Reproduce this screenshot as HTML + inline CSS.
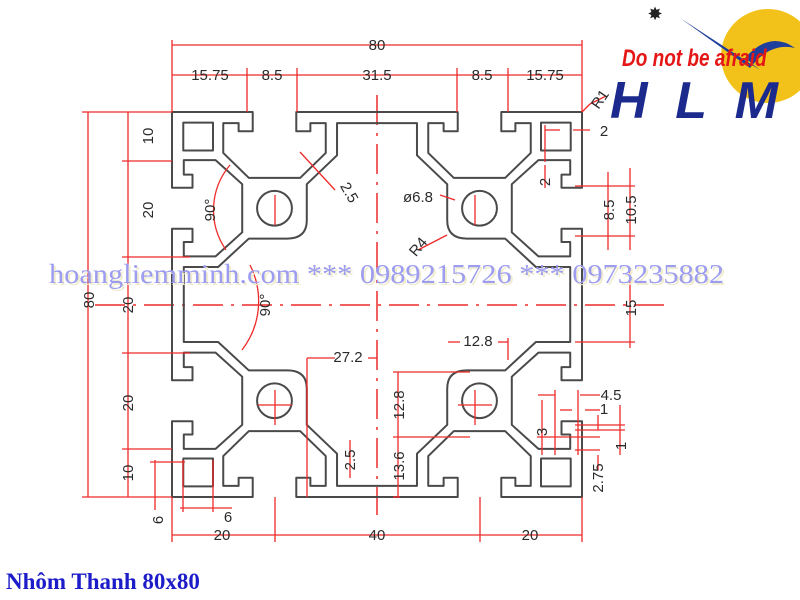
<!DOCTYPE html>
<html><head><meta charset="utf-8"><style>
html,body{margin:0;padding:0;background:#fff;width:800px;height:600px;overflow:hidden}
svg{display:block}
.p{fill:none;stroke:#4a4a4a;stroke-width:2;vector-effect:non-scaling-stroke;stroke-linejoin:round}
.r{stroke:#ee2a2a;stroke-width:1.3;fill:none}
.cl{stroke:#ee2a2a;stroke-width:1.5;stroke-dasharray:30 8 3 8;fill:none}
.t{font-family:"Liberation Sans",sans-serif;font-size:15px;fill:#2a2a2a}
</style></head><body>
<svg width="800" height="600" viewBox="0 0 800 600" xmlns="http://www.w3.org/2000/svg">
<defs>
<g id="q">
<path class="p" d="M0,15.75 L0,0 L15.75,0 L15.75,4 L13,4 L13,2.3 L10,2.3 L10,8.5 L15,13.7 L25,13.7 L30,8.5 L30,2.3 L27,2.3 L27,4 L24.25,4 L24.25,0 L40,0"/>
<path class="p" d="M15.75,0 L0,0 L0,15.75 L4,15.75 L4,13 L2.3,13 L2.3,10 L8.5,10 L13.7,15 L13.7,25 L8.5,30 L2.3,30 L2.3,27 L4,27 L4,24.25 L0,24.25 L0,40"/>
<rect class="p" x="2.2" y="2.2" width="5.8" height="5.8"/>
<path class="p" d="M40,2.3 L32.2,2.3 L32.2,9 L26.3,15 L26.3,22.5 Q26.3,26.3 22.5,26.3 L15,26.3 L9,32.2 L2.3,32.2 L2.3,40"/>
<ellipse class="p" cx="20" cy="20" rx="3.4" ry="3.6"/>
</g>
</defs>
<line class="cl" x1="95" y1="305" x2="665" y2="305"/>
<line class="cl" x1="377" y1="95" x2="377" y2="515"/>
<use href="#q" transform="translate(172,112) scale(5.125,4.8125)"/>
<use href="#q" transform="translate(582,112) scale(-5.125,4.8125)"/>
<use href="#q" transform="translate(172,497) scale(5.125,-4.8125)"/>
<use href="#q" transform="translate(582,497) scale(-5.125,-4.8125)"/>
<g class="r">
<line x1="172" y1="45" x2="582" y2="45"/>
<line x1="172" y1="40" x2="172" y2="112"/><line x1="582" y1="40" x2="582" y2="112"/>
<line x1="172" y1="75" x2="582" y2="75"/>
<line x1="247" y1="68" x2="247" y2="112"/><line x1="297" y1="68" x2="297" y2="112"/>
<line x1="457" y1="68" x2="457" y2="112"/><line x1="508" y1="68" x2="508" y2="112"/>
<line x1="88" y1="112" x2="88" y2="497"/>
<line x1="82" y1="112" x2="172" y2="112"/><line x1="82" y1="497" x2="172" y2="497"/>
<line x1="128" y1="112" x2="128" y2="497"/>
<line x1="122" y1="161" x2="172" y2="161"/><line x1="122" y1="257" x2="190" y2="257"/>
<line x1="122" y1="353" x2="190" y2="353"/><line x1="122" y1="449" x2="172" y2="449"/>
<line x1="172" y1="535" x2="582" y2="535"/>
<line x1="172" y1="497" x2="172" y2="542"/><line x1="582" y1="497" x2="582" y2="542"/>
<line x1="275" y1="497" x2="275" y2="542"/><line x1="480" y1="497" x2="480" y2="542"/>
<line x1="155" y1="460" x2="155" y2="510"/><line x1="150" y1="462" x2="185" y2="462"/>
<line x1="183" y1="460" x2="183" y2="512"/><line x1="213" y1="460" x2="213" y2="512"/><line x1="180" y1="508" x2="232" y2="508"/>
<line x1="582" y1="112" x2="590" y2="104"/><line x1="590" y1="104" x2="606" y2="96"/>
<line x1="545" y1="130" x2="560" y2="130"/><line x1="573" y1="130" x2="590" y2="130"/>
<line x1="545" y1="125" x2="545" y2="162"/>
<line x1="545" y1="165" x2="545" y2="188"/>
<line x1="575" y1="186" x2="635" y2="186"/><line x1="575" y1="236" x2="635" y2="236"/>
<line x1="608" y1="172" x2="608" y2="250"/><line x1="630" y1="168" x2="630" y2="250"/>
<line x1="575" y1="342" x2="635" y2="342"/><line x1="630" y1="270" x2="630" y2="348"/>
<line x1="538" y1="395" x2="555" y2="395"/><line x1="580" y1="395" x2="600" y2="395"/>
<line x1="555" y1="390" x2="555" y2="455"/><line x1="578" y1="390" x2="578" y2="455"/>
<line x1="560" y1="410" x2="572" y2="410"/><line x1="585" y1="410" x2="600" y2="410"/>
<line x1="575" y1="425" x2="625" y2="425"/><line x1="575" y1="430" x2="625" y2="430"/>
<line x1="537" y1="437" x2="600" y2="437"/><line x1="542" y1="400" x2="542" y2="455"/>
<line x1="620" y1="405" x2="620" y2="455"/><line x1="598" y1="415" x2="598" y2="430"/>
<line x1="575" y1="450" x2="600" y2="450"/><line x1="598" y1="455" x2="598" y2="470"/>
<line x1="300" y1="152" x2="335" y2="190"/>
<line x1="440" y1="195" x2="455" y2="200"/><line x1="418" y1="250" x2="447" y2="235"/>
<line x1="307" y1="358" x2="307" y2="497"/><line x1="307" y1="358" x2="335" y2="358"/><line x1="368" y1="358" x2="377" y2="358"/>
<line x1="448" y1="342" x2="460" y2="342"/><line x1="498" y1="342" x2="508" y2="342"/><line x1="508" y1="338" x2="508" y2="360"/>
<line x1="393" y1="372" x2="470" y2="372"/><line x1="393" y1="437" x2="470" y2="437"/><line x1="393" y1="497" x2="400" y2="497"/>
<line x1="398" y1="372" x2="398" y2="497"/>
<line x1="350" y1="440" x2="350" y2="478"/><line x1="275" y1="390" x2="275" y2="425"/><line x1="258" y1="405" x2="292" y2="405"/>
<line x1="475" y1="390" x2="475" y2="425"/><line x1="458" y1="405" x2="492" y2="405"/>
<line x1="275" y1="195" x2="275" y2="225"/><line x1="475" y1="195" x2="475" y2="225"/>
<path d="M230,165 A70,70 0 0 0 226,250"/>
<path d="M250,265 A80,80 0 0 1 242,350"/>
</g>
<g class="t" text-anchor="middle">
<text x="377" y="50">80</text>
<text x="210" y="80">15.75</text><text x="272" y="80">8.5</text><text x="377" y="80">31.5</text>
<text x="482" y="80">8.5</text><text x="545" y="80">15.75</text>
<text transform="translate(94,300) rotate(-90)">80</text>
<text transform="translate(153,136) rotate(-90)">10</text>
<text transform="translate(153,210) rotate(-90)">20</text>
<text transform="translate(133,305) rotate(-90)">20</text>
<text transform="translate(133,403) rotate(-90)">20</text>
<text transform="translate(133,473) rotate(-90)">10</text>
<text transform="translate(163,520) rotate(-90)">6</text>
<text x="228" y="522">6</text>
<text x="222" y="540">20</text><text x="377" y="540">40</text><text x="530" y="540">20</text>
<text transform="translate(345,195) rotate(60)">2.5</text>
<text x="418" y="202">ø6.8</text>
<text transform="translate(422,250) rotate(-50)">R4</text>
<text transform="translate(215,210) rotate(-90)">90°</text>
<text transform="translate(270,305) rotate(-90)">90°</text>
<text x="348" y="362">27.2</text><text x="478" y="346">12.8</text>
<text transform="translate(404,405) rotate(-90)">12.8</text>
<text transform="translate(404,466) rotate(-90)">13.6</text>
<text transform="translate(355,460) rotate(-90)">2.5</text>
<text transform="translate(604,102) rotate(-55)">R1</text>
<text x="604" y="136">2</text>
<text transform="translate(550,182) rotate(-90)">2</text>
<text transform="translate(614,210) rotate(-90)">8.5</text>
<text transform="translate(636,210) rotate(-90)">10.5</text>
<text transform="translate(636,308) rotate(-90)">15</text>
<text x="611" y="400">4.5</text><text x="604" y="414">1</text>
<text transform="translate(547,432) rotate(-90)">3</text>
<text transform="translate(626,446) rotate(-90)">1</text>
<text transform="translate(603,478) rotate(-90)">2.75</text>
</g>
<text x="51" y="285" textLength="675" lengthAdjust="spacingAndGlyphs" style="font-family:'Liberation Serif',serif;font-size:27px;fill:#f0ecd0">hoangliemminh.com *** 0989215726 *** 0973235882</text>
<text x="49" y="283" textLength="675" lengthAdjust="spacingAndGlyphs" style="font-family:'Liberation Serif',serif;font-size:27px;fill:#9c9cf0">hoangliemminh.com *** 0989215726 *** 0973235882</text>
<circle cx="768" cy="56" r="47" fill="#f3c21a"/>
<path d="M680,18 L760,70 L745,58 Q770,30 795,48 Q770,42 750,68 Z" fill="#1f3f9c"/>
<text x="655" y="20" style="font-family:'DejaVu Sans',sans-serif;font-size:18px;fill:#222" text-anchor="middle">✸</text>
<text x="622" y="66" transform="translate(622,66) scale(1,1.25) translate(-622,-66)" style="font-family:'Liberation Sans',sans-serif;font-weight:bold;font-style:italic;font-size:19px;fill:#e41616">Do not be afraid</text>
<text x="610" y="118" textLength="168" lengthAdjust="spacing" style="font-family:'Liberation Sans',sans-serif;font-weight:bold;font-style:italic;font-size:52px;fill:#1b2a8c">HLM</text>
<text x="6" y="589" style="font-family:'Liberation Serif',serif;font-weight:bold;font-size:23px;fill:#1c1cc8">Nhôm Thanh 80x80</text>
</svg>
</body></html>
